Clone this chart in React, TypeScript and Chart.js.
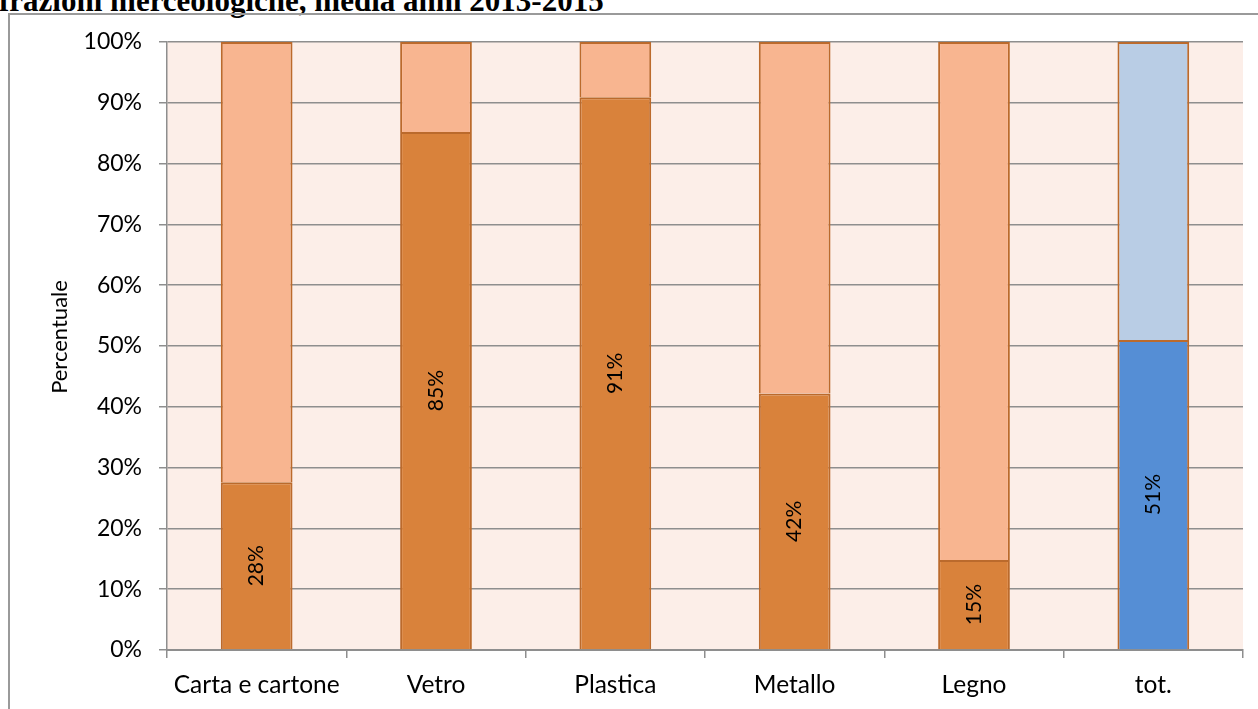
import React, { useEffect, useRef } from "react";
import { Chart, registerables } from "chart.js";

Chart.register(...registerables);

const TITLE = "frazioni merceologiche, media anni 2013-2015";
const CATEGORIES = ["Carta e cartone", "Vetro", "Plastica", "Metallo", "Legno", "tot."];
const LOWER_VALUES = [27.6, 85.2, 90.9, 42.2, 14.8, 51.0];
const UPPER_VALUES = [72.4, 14.8, 9.1, 57.8, 85.2, 49.0];
const Y_TICKS = [0, 10, 20, 30, 40, 50, 60, 70, 80, 90, 100];
const Y_TITLE = "Percentuale";

const ORANGE = "#D9823B";
const SALMON = "#F8B590";
const BLUE = "#558ED5";
const LIGHT_BLUE = "#B9CDE5";
const BORDER = "#BB6A2C";
const PLOT_BG = "#FCEEE8";
const GRID = "#8E8E8E";
const FONT = "Lato, 'Open Sans', sans-serif";

const bgPlugin = {
  id: "plotBg",
  beforeDraw(chart: any) {
    const { ctx, chartArea } = chart;
    ctx.save();
    ctx.fillStyle = PLOT_BG;
    ctx.fillRect(chartArea.left, chartArea.top, chartArea.right - chartArea.left, chartArea.bottom - chartArea.top);
    ctx.restore();
  },
};

const yTitlePlugin = {
  id: "yTitle",
  afterDraw(chart: any) {
    const { ctx, chartArea } = chart;
    ctx.save();
    ctx.fillStyle = "#000";
    ctx.font = `22px ${FONT}`;
    ctx.textAlign = "center";
    ctx.textBaseline = "middle";
    ctx.translate(60, (chartArea.top + chartArea.bottom) / 2 - 9);
    ctx.rotate(-Math.PI / 2);
    ctx.fillText(Y_TITLE, 0, 0);
    ctx.restore();
  },
};

const labelPlugin = {
  id: "barLabels",
  afterDatasetsDraw(chart: any) {
    const { ctx } = chart;
    const meta = chart.getDatasetMeta(0);
    ctx.save();
    ctx.fillStyle = "#000";
    ctx.font = `21px ${FONT}`;
    ctx.textAlign = "center";
    ctx.textBaseline = "middle";
    meta.data.forEach((bar: any, i: number) => {
      const v = LOWER_VALUES[i];
      const cy = (bar.y + bar.base) / 2;
      ctx.save();
      ctx.translate(bar.x, cy);
      ctx.rotate(-Math.PI / 2);
      ctx.fillText(Math.round(v) + "%", 0, 0);
      ctx.restore();
    });
    ctx.restore();
  },
};

export default function App() {
  const ref = useRef<HTMLCanvasElement>(null);

  useEffect(() => {
    if (!ref.current) return;
    const lowerColors = CATEGORIES.map((_, i) => (i === CATEGORIES.length - 1 ? BLUE : ORANGE));
    const upperColors = CATEGORIES.map((_, i) => (i === CATEGORIES.length - 1 ? LIGHT_BLUE : SALMON));
    const chart = new Chart(ref.current, {
      type: "bar",
      data: {
        labels: CATEGORIES,
        datasets: [
          {
            label: "lower",
            data: LOWER_VALUES,
            backgroundColor: lowerColors,
            borderColor: BORDER,
            borderWidth: 2,
            barPercentage: 0.4,
            categoryPercentage: 1,
          },
          {
            label: "upper",
            data: UPPER_VALUES,
            backgroundColor: upperColors,
            borderColor: BORDER,
            borderWidth: 2,
            barPercentage: 0.4,
            categoryPercentage: 1,
          },
        ],
      },
      options: {
        animation: false,
        responsive: false,
        maintainAspectRatio: false,
        layout: { padding: { top: 42, right: 15, left: 0, bottom: 0 } },
        plugins: {
          legend: { display: false },
          tooltip: { enabled: false },
          title: { display: false },
        },
        scales: {
          x: {
            stacked: true,
            offset: true,
            grid: {
              offset: true,
              drawOnChartArea: false,
              drawTicks: true,
              tickLength: 8,
              color: GRID,
              lineWidth: 1.5,
            },
            border: { display: true, color: GRID, width: 2 },
            ticks: {
              color: "#000",
              font: { family: FONT, size: 24.5 },
              padding: 12,
              maxRotation: 0,
              autoSkip: false,
            },
            afterFit(scale: any) {
              scale.height = 59;
            },
          },
          y: {
            stacked: true,
            min: 0,
            max: 100,
            afterBuildTicks(scale: any) {
              scale.ticks = Y_TICKS.map((v) => ({ value: v }));
            },
            grid: {
              drawTicks: true,
              tickLength: 8,
              color: GRID,
              lineWidth: 1.5,
            },
            border: { display: true, color: GRID, width: 1.5 },
            ticks: {
              color: "#000",
              font: { family: FONT, size: 23 },
              padding: 17,
              callback: (v: any) => v + "%",
            },
            title: { display: false },
            afterFit(scale: any) {
              scale.width = 167;
            },
          },
        },
      },
      plugins: [bgPlugin, labelPlugin, yTitlePlugin],
    });
    return () => chart.destroy();
  }, []);

  return (
    <div style={{ position: "fixed", left: 0, top: 0, width: 1258, height: 709, overflow: "hidden", background: "#fff" }}>
      <div
        style={{
          position: "absolute",
          left: -1,
          top: -15,
          font: "bold 31px 'Liberation Serif', 'Times New Roman', serif",
          lineHeight: "31px",
          whiteSpace: "nowrap",
          color: "#000",
        }}
      >
        {TITLE}
      </div>
      <div
        style={{
          position: "absolute",
          left: 8,
          top: 13,
          width: 1300,
          height: 800,
          border: "2px solid #9a9a9a",
          boxSizing: "border-box",
        }}
      />
      <canvas ref={ref} width={1258} height={709} style={{ position: "absolute", left: 0, top: 0 }} />
    </div>
  );
}
